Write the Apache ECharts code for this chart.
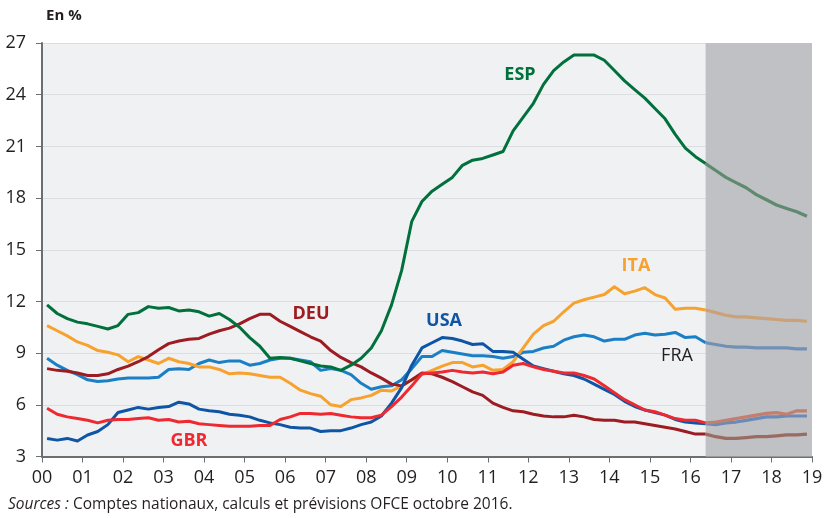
<!DOCTYPE html>
<html>
<head>
<meta charset="utf-8">
<script src="https://cdn.jsdelivr.net/npm/echarts@6/dist/echarts.min.js"></script>
<style>
html, body { margin: 0; background: #fff; }
#chart { width: 827px; height: 518px; }
</style>
</head>
<body>
<div id="chart"></div>
<script>
// Taux de chômage trimestriels, 2000T1 -> 2018T4, en %
// prévisions OFCE à partir de 2016T3 (zone grisée)
const startYear = 2000
const lastHistIdx = 65 // 2016T2
const forecastStart = 2016.375
const yearTicks = ['00', '01', '02', '03', '04', '05', '06', '07', '08', '09',
  '10', '11', '12', '13', '14', '15', '16', '17', '18', '19']

const esp = [
  11.8, 11.3, 11.0, 10.8, 10.7, 10.55, 10.4, 10.6, 11.25, 11.35, 11.7, 11.6,
  11.65, 11.45, 11.5, 11.4, 11.15, 11.3, 10.95, 10.5, 9.9, 9.4, 8.7, 8.75,
  8.7, 8.55, 8.4, 8.25, 8.2, 8.0, 8.3, 8.7, 9.3, 10.3, 11.8, 13.8,
  16.65, 17.8, 18.4, 18.8, 19.2, 19.9, 20.2, 20.3, 20.5, 20.7, 21.9, 22.7,
  23.5, 24.6, 25.4, 25.9, 26.3, 26.3, 26.3, 26.0, 25.4, 24.8, 24.3, 23.8,
  23.2, 22.6, 21.7, 20.9, 20.4, 20.0, 19.6, 19.2, 18.9, 18.6, 18.2, 17.9,
  17.6, 17.4, 17.2, 16.95
]
const ita = [
  10.6, 10.3, 10.0, 9.65, 9.45, 9.15, 9.05, 8.9, 8.5, 8.8, 8.6, 8.4,
  8.7, 8.5, 8.4, 8.2, 8.2, 8.05, 7.8, 7.85, 7.8, 7.7, 7.6, 7.6,
  7.25, 6.85, 6.65, 6.5, 6.0, 5.9, 6.3, 6.4, 6.55, 6.85, 6.8, 7.1,
  7.45, 7.75, 8.0, 8.25, 8.45, 8.45, 8.2, 8.3, 8.0, 8.05, 8.5, 9.3,
  10.1, 10.6, 10.85, 11.4, 11.9, 12.1, 12.25, 12.4, 12.85, 12.45, 12.6, 12.8,
  12.4, 12.2, 11.55, 11.6, 11.6, 11.5, 11.35, 11.2, 11.1, 11.1, 11.05, 11.0,
  10.95, 10.9, 10.9, 10.85
]
const deu = [
  8.1, 8.0, 7.95, 7.85, 7.7, 7.7, 7.8, 8.05, 8.25, 8.5, 8.8, 9.2,
  9.55, 9.7, 9.8, 9.85, 10.1, 10.3, 10.45, 10.7, 11.0, 11.25, 11.25, 10.85,
  10.55, 10.25, 9.95, 9.7, 9.15, 8.75, 8.45, 8.2, 7.85, 7.55, 7.2, 7.1,
  7.45, 7.85, 7.8, 7.6, 7.35, 7.05, 6.75, 6.55, 6.1, 5.85, 5.65, 5.6,
  5.45, 5.35, 5.3, 5.3, 5.4, 5.3, 5.15, 5.1, 5.1, 5.0, 5.0, 4.9,
  4.8, 4.7, 4.6, 4.45, 4.3, 4.3, 4.15, 4.05, 4.05, 4.1, 4.15, 4.15,
  4.2, 4.25, 4.25, 4.3
]
const fra = [
  8.7, 8.3, 8.0, 7.75, 7.45, 7.35, 7.4, 7.5, 7.55, 7.55, 7.55, 7.6,
  8.05, 8.1, 8.05, 8.4, 8.6, 8.45, 8.55, 8.55, 8.3, 8.4, 8.6, 8.7,
  8.7, 8.6, 8.5, 8.0, 8.1, 8.0, 7.75, 7.25, 6.9, 7.05, 7.1, 7.45,
  8.1, 8.8, 8.8, 9.15, 9.05, 8.95, 8.85, 8.85, 8.8, 8.7, 8.8, 9.05,
  9.1, 9.3, 9.4, 9.75, 9.95, 10.05, 9.95, 9.7, 9.8, 9.8, 10.05, 10.15,
  10.05, 10.1, 10.2, 9.9, 9.95, 9.6, 9.5, 9.4, 9.35, 9.35, 9.3, 9.3,
  9.3, 9.3, 9.25, 9.25
]
const usa = [
  4.05, 3.95, 4.05, 3.9, 4.25, 4.45, 4.85, 5.55, 5.7, 5.85, 5.75, 5.85,
  5.9, 6.15, 6.05, 5.75, 5.65, 5.6, 5.45, 5.4, 5.3, 5.1, 4.95, 4.85,
  4.7, 4.65, 4.65, 4.45, 4.5, 4.5, 4.65, 4.85, 5.0, 5.35, 6.1, 7.0,
  8.3, 9.3, 9.6, 9.9, 9.85, 9.7, 9.5, 9.55, 9.1, 9.1, 9.05, 8.65,
  8.25, 8.1, 7.95, 7.8, 7.7, 7.5, 7.2, 6.9, 6.6, 6.2, 5.9, 5.7,
  5.55, 5.4, 5.15, 5.0, 4.95, 4.9, 4.85, 4.95, 5.0, 5.1, 5.2, 5.3,
  5.3, 5.35, 5.35, 5.35
]
const gbr = [
  5.8, 5.45, 5.3, 5.2, 5.1, 4.95, 5.1, 5.15, 5.15, 5.2, 5.25, 5.1,
  5.15, 5.0, 5.05, 4.9, 4.85, 4.8, 4.75, 4.75, 4.75, 4.8, 4.8, 5.15,
  5.3, 5.5, 5.5, 5.45, 5.5, 5.4, 5.3, 5.25, 5.25, 5.4, 5.9, 6.45,
  7.1, 7.8, 7.85, 7.9, 8.0, 7.9, 7.85, 7.9, 7.8, 7.9, 8.3, 8.4,
  8.2, 8.05, 7.95, 7.85, 7.85, 7.7, 7.5, 7.1, 6.7, 6.3, 6.0, 5.7,
  5.6, 5.4, 5.2, 5.1, 5.1, 4.95, 5.0, 5.1, 5.2, 5.3, 5.4, 5.5,
  5.55, 5.45, 5.65, 5.65
]

// ordre de tracé : le dernier passe au-dessus
const countries = [
  {name: 'FRA', values: fra, color: '#1b7fc6', forecastColor: '#7190b6'},
  {name: 'ITA', values: ita, color: '#f7a12f', forecastColor: '#c9a27a'},
  {name: 'DEU', values: deu, color: '#9c1c22', forecastColor: '#9a6b62'},
  {name: 'USA', values: usa, color: '#0f55a5', forecastColor: '#6a8bb8'},
  {name: 'GBR', values: gbr, color: '#ee2a30', forecastColor: '#c27f6f'},
  {name: 'ESP', values: esp, color: '#00703c', forecastColor: '#5f8a6f'},
]

const fontFamily = '"Open Sans", sans-serif'

// date du trimestre au milieu de la période
const quarterPos = (i) => startYear + 0.125 + 0.25 * i

const toPoints = (values, from, to) => {
  const pts = []
  for (let i = from; i <= to; i++) pts.push([quarterPos(i), values[i]])
  return pts
}

const seriesList = [
  {
    // zone de prévision
    type: 'line',
    data: [],
    z: 1,
    silent: true,
    markArea: {
      silent: true,
      itemStyle: {color: '#c0c1c4'},
      data: [[{xAxis: forecastStart}, {xAxis: startYear + 19}]]
    }
  }
]

countries.forEach((c, idx) => {
  seriesList.push({
    name: c.name,
    type: 'line',
    data: toPoints(c.values, 0, lastHistIdx),
    showSymbol: false,
    z: 3 + idx,
    lineStyle: {color: c.color, width: 3, join: 'round'}
  })
  seriesList.push({
    name: c.name + ' prev',
    type: 'line',
    data: toPoints(c.values, lastHistIdx, c.values.length - 1),
    showSymbol: false,
    z: 3 + idx,
    lineStyle: {color: c.forecastColor, width: 3.2, join: 'round'}
  })
})

// étiquettes des séries
const seriesLabels = [
  {text: 'ESP', x: 520, y: 75, color: '#00703c', bold: true},
  {text: 'DEU', x: 311, y: 314, color: '#9c1c22', bold: true},
  {text: 'USA', x: 444, y: 321, color: '#0f55a5', bold: true},
  {text: 'ITA', x: 636, y: 266, color: '#f7a12f', bold: true},
  {text: 'FRA', x: 677, y: 356, color: '#231f20', bold: false},
  {text: 'GBR', x: 189, y: 441, color: '#ee2a30', bold: true},
]

const chart = echarts.init(document.getElementById('chart'))

chart.setOption({
  animation: false,
  backgroundColor: '#ffffff',
  grid: {
    left: 42,
    right: 15,
    top: 43,
    bottom: 61.5,
    show: true,
    backgroundColor: '#f0f1f3',
    borderWidth: 0
  },
  xAxis: {
    type: 'value',
    min: 2000,
    max: 2019,
    interval: 1,
    axisLine: {show: true, lineStyle: {color: '#6d6e71', width: 2}},
    axisTick: {show: true, length: 6, lineStyle: {color: '#6d6e71', width: 1}},
    axisLabel: {
      color: '#231f20',
      fontSize: 18,
      fontFamily: fontFamily,
      margin: 12,
      formatter: (v) => yearTicks[Math.round(v) - startYear]
    },
    splitLine: {show: false}
  },
  yAxis: {
    type: 'value',
    min: 3,
    max: 27,
    interval: 3,
    axisLine: {show: true, lineStyle: {color: '#6d6e71', width: 2}},
    axisTick: {show: true, length: 6, lineStyle: {color: '#6d6e71', width: 1}},
    axisLabel: {
      color: '#231f20',
      fontSize: 18,
      fontFamily: fontFamily,
      margin: 16
    },
    splitLine: {show: true, lineStyle: {color: '#dcdde0', width: 1}}
  },
  series: seriesList,
  graphic: [
    {
      type: 'text',
      left: 46,
      top: 8,
      style: {text: 'En %', fill: '#231f20', font: 'bold 15px ' + fontFamily}
    },
    {
      type: 'text',
      left: 8,
      top: 497,
      style: {
        text: '{i|Sources :} Comptes nationaux, calculs et prévisions OFCE octobre 2016.',
        fill: '#231f20',
        font: '15.5px ' + fontFamily,
        rich: {
          i: {fontStyle: 'italic', fontSize: 15.5, fontFamily: fontFamily, fill: '#231f20'}
        }
      }
    },
    ...seriesLabels.map(l => ({
      type: 'text',
      x: l.x,
      y: l.y,
      z: 100,
      style: {
        text: l.text,
        fill: l.color,
        font: (l.bold ? 'bold ' : '') + '18px ' + fontFamily,
        align: 'center',
        verticalAlign: 'middle'
      }
    }))
  ]
})
</script>
</body>
</html>
